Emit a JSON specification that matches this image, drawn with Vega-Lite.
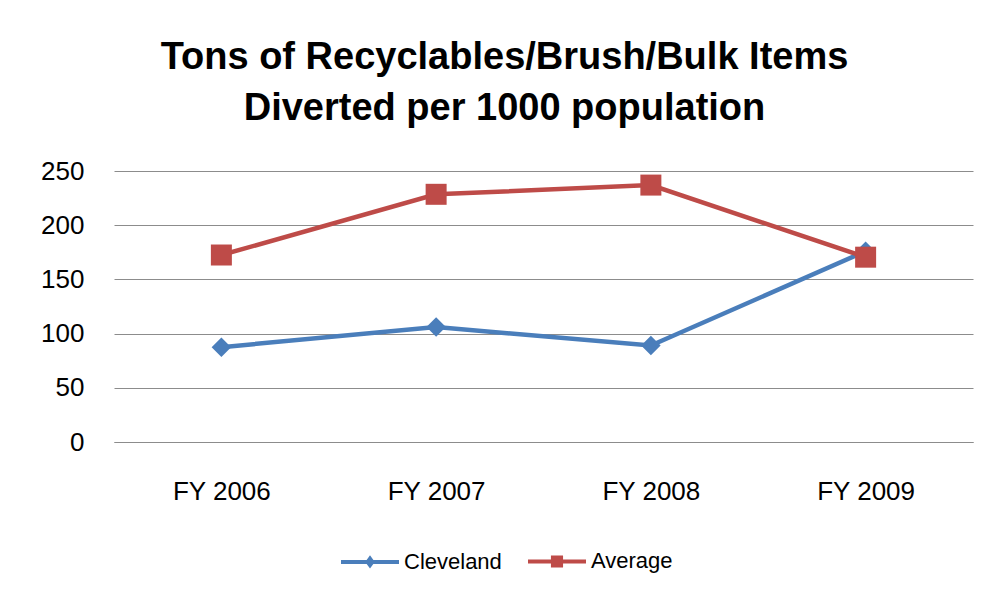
{
  "$schema": "https://vega.github.io/schema/vega-lite/v6.json",
  "width": 859,
  "height": 271,
  "autosize": "none",
  "padding": {"left": 114, "top": 171, "right": 16, "bottom": 154},
  "background": "white",
  "title": {
    "text": ["Tons of Recyclables/Brush/Bulk Items", "Diverted per 1000 population"],
    "font": "Liberation Sans",
    "fontWeight": "bold",
    "fontSize": 38,
    "color": "black",
    "lineHeight": 51,
    "anchor": "middle",
    "frame": "group",
    "dx": -39,
    "offset": 30
  },
  "data": {
    "values": [
      {"year": "FY 2006", "series": "Cleveland", "value": 87.5},
      {"year": "FY 2007", "series": "Cleveland", "value": 106},
      {"year": "FY 2008", "series": "Cleveland", "value": 89},
      {"year": "FY 2009", "series": "Cleveland", "value": 176},
      {"year": "FY 2006", "series": "Average", "value": 172.5},
      {"year": "FY 2007", "series": "Average", "value": 228.5},
      {"year": "FY 2008", "series": "Average", "value": 237},
      {"year": "FY 2009", "series": "Average", "value": 170.5}
    ]
  },
  "encoding": {
    "x": {
      "field": "year", "type": "nominal", "title": null,
      "scale": {"paddingInner": 0, "paddingOuter": 0},
      "axis": {
        "labelAngle": 0, "labelFont": "Liberation Sans", "labelFontSize": 26,
        "labelColor": "black", "labelPadding": 36, "ticks": false,
        "domainColor": "#8c8c8c", "domainWidth": 1, "grid": false
      }
    },
    "y": {
      "field": "value", "type": "quantitative", "title": null,
      "scale": {"domain": [0, 250]},
      "axis": {
        "values": [0, 50, 100, 150, 200, 250],
        "labelFont": "Liberation Sans", "labelFontSize": 26, "labelColor": "black",
        "labelPadding": 30, "ticks": false, "domain": false,
        "gridColor": "#8c8c8c", "gridWidth": 1
      }
    },
    "color": {
      "field": "series", "type": "nominal",
      "scale": {"domain": ["Cleveland", "Average"], "range": ["#4a7ebb", "#be4b48"]},
      "legend": {
        "title": null,
        "orient": "none",
        "direction": "horizontal",
        "legendX": 225,
        "legendY": 359,
        "labelFont": "Liberation Sans",
        "labelFontSize": 22,
        "labelColor": "black",
        "labelOffset": 3,
        "columnPadding": 18,
        "symbolSize": 3364,
        "symbolStrokeWidth": 4,
        "symbolType": "M-1,0H1",
        "encode": {
          "symbols": {
            "update": {
              "shape": {"signal": "datum.value === 'Cleveland' ? 'M-1,0H1M0,-0.11L0.08,0L0,0.11L-0.08,0Z' : 'M-1,0H1M-0.14,-0.14H0.14V0.14H-0.14Z'"},
              "fill": {"signal": "datum.value === 'Cleveland' ? '#4a7ebb' : '#be4b48'"},
              "stroke": {"signal": "datum.value === 'Cleveland' ? '#4a7ebb' : '#be4b48'"}
            }
          }
        }
      }
    }
  },
  "layer": [
    {"mark": {"type": "line", "strokeWidth": 4.5}},
    {
      "transform": [{"filter": "datum.series === 'Cleveland'"}],
      "mark": {"type": "point", "filled": true, "opacity": 1, "shape": "diamond", "size": 380}
    },
    {
      "transform": [{"filter": "datum.series === 'Average'"}],
      "mark": {"type": "point", "filled": true, "opacity": 1, "shape": "square", "size": 441}
    }
  ],
  "config": {"view": {"stroke": null}}
}
